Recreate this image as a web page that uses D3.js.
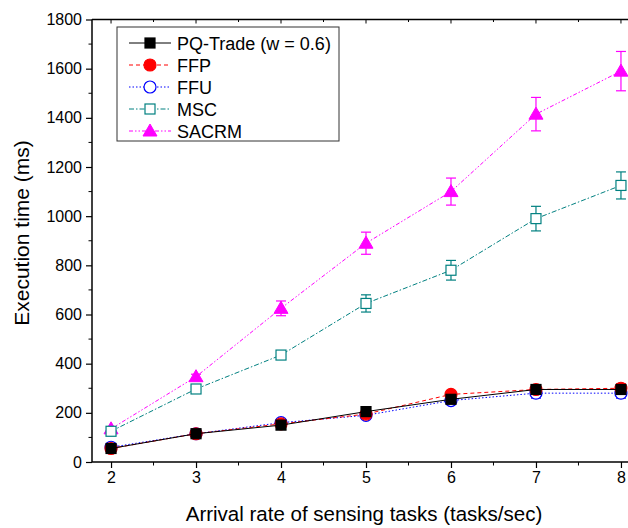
<!DOCTYPE html>
<html><head><meta charset="utf-8">
<script src="https://cdn.jsdelivr.net/npm/d3@7"></script>
<style>body{margin:0;background:#fff}svg{display:block}text{font-family:"Liberation Sans",Arial,sans-serif}</style>
</head><body><svg id="c" width="628" height="528"></svg>
<script>
const xValues = [2, 3, 4, 5, 6, 7, 8];
const seriesNames = ["PQ-Trade (w = 0.6)", "FFP", "FFU", "MSC", "SACRM"];
const pqTrade = [55, 115, 150, 205, 255, 295, 295];
const pqTradeErr = [8, 8, 8, 10, 12, 15, 15];
const ffp = [55, 115, 155, 195, 275, 295, 300];
const ffpErr = [8, 8, 8, 10, 15, 18, 18];
const ffu = [60, 115, 160, 190, 250, 280, 280];
const ffuErr = [8, 8, 8, 10, 12, 20, 20];
const msc = [125, 297, 435, 645, 780, 990, 1125];
const mscErr = [8, 10, 12, 35, 40, 50, 55];
const sacrm = [135, 347, 625, 890, 1100, 1415, 1590];
const sacrmErr = [8, 10, 30, 45, 55, 68, 80];
const yTicks = [0, 200, 400, 600, 800, 1000, 1200, 1400, 1600, 1800];
const xTicks = [2, 3, 4, 5, 6, 7, 8];

const svg = d3.select("#c");
const L = 92, T = 19.5, B = 462, R = 640;
const x = d3.scaleLinear().domain([1.776, 8.224]).range([L, R]);
const y = d3.scaleLinear().domain([0, 1800]).range([B, T]);

const series = [
  {name: seriesNames[0], v: pqTrade, e: pqTradeErr, color: "#000000", dash: null, marker: "square", fill: true},
  {name: seriesNames[1], v: ffp, e: ffpErr, color: "#ff0000", dash: "4,3", marker: "circle", fill: true},
  {name: seriesNames[2], v: ffu, e: ffuErr, color: "#0000ff", dash: "1.5,2", marker: "circle", fill: false},
  {name: seriesNames[3], v: msc, e: mscErr, color: "#008080", dash: "5,2,1.5,2", marker: "square", fill: false},
  {name: seriesNames[4], v: sacrm, e: sacrmErr, color: "#ff00ff", dash: "4,2,1.5,2,1.5,2", marker: "triangle", fill: true}
];

// axes
const fmt = d3.format("d");
const yAxis = d3.axisLeft(y).tickValues(yTicks).tickFormat(fmt).tickSize(6).tickPadding(4);
const gy = svg.append("g").attr("transform", `translate(${L},0)`).call(yAxis);
const yMinor = d3.range(100, 1800, 200);
gy.selectAll(".minor").data(yMinor).enter().append("line").attr("class","minor")
  .attr("x1", -3.5).attr("x2", 0).attr("y1", d => y(d)).attr("y2", d => y(d)).attr("stroke", "#000");
const xAxis = d3.axisBottom(x).tickValues(xTicks).tickFormat(fmt).tickSize(6).tickPadding(4);
const gx = svg.append("g").attr("transform", `translate(0,${B})`).call(xAxis);
const xMinor = d3.range(2.5, 8, 1);
gx.selectAll(".minor").data(xMinor).enter().append("line").attr("class","minor")
  .attr("y1", 0).attr("y2", 3.5).attr("x1", d => x(d)).attr("x2", d => x(d)).attr("stroke", "#000");
[gx, gy].forEach(g => {
  g.select(".domain").attr("stroke", "#000").attr("stroke-width", 1.5);
  g.selectAll(".tick line").attr("stroke", "#000").attr("stroke-width", 1.2);
  g.selectAll(".tick text").attr("font-size", 16).attr("fill", "#000").attr("font-family", "Liberation Sans, Arial, sans-serif");
});
gx.select(".domain").attr("d", `M${L},0H${R}`);
gy.select(".domain").attr("d", `M0,${B}V${T}`);
// top border with inward ticks
const gt = svg.append("g");
gt.append("line").attr("x1", L).attr("x2", R).attr("y1", T).attr("y2", T).attr("stroke", "#000").attr("stroke-width", 1.5);
gt.selectAll(".tt").data(xTicks).enter().append("line")
  .attr("x1", d => x(d)).attr("x2", d => x(d)).attr("y1", T).attr("y2", T + 4).attr("stroke", "#000");
gt.selectAll(".tm").data(xMinor).enter().append("line")
  .attr("x1", d => x(d)).attr("x2", d => x(d)).attr("y1", T).attr("y2", T + 2.5).attr("stroke", "#000");

// labels
svg.append("text").attr("x", 364).attr("y", 521)
  .attr("text-anchor", "middle").attr("font-size", 20.5).text("Arrival rate of sensing tasks (tasks/sec)");
svg.append("text").attr("transform", "translate(29,233) rotate(-90)")
  .attr("text-anchor", "middle").attr("font-size", 21).text("Execution time (ms)");

function drawMarker(g, s, cx, cy) {
  const fill = s.fill ? s.color : "#fff";
  if (s.marker === "square") {
    g.append("rect").attr("x", cx - 5).attr("y", cy - 5).attr("width", 10).attr("height", 10)
      .attr("fill", fill).attr("stroke", s.color).attr("stroke-width", 1.2);
  } else if (s.marker === "circle") {
    g.append("circle").attr("cx", cx).attr("cy", cy).attr("r", 6)
      .attr("fill", fill).attr("stroke", s.color).attr("stroke-width", 1.2);
  } else {
    g.append("path").attr("d", `M${cx},${cy - 7}L${cx + 7},${cy + 5}L${cx - 7},${cy + 5}Z`)
      .attr("fill", fill).attr("stroke", s.color).attr("stroke-width", 1);
  }
}

const line = d3.line().x((d, i) => x(xValues[i])).y(d => y(d));
const plot = svg.append("g");
series.slice().reverse().forEach(s => {
  const g = plot.append("g");
  g.append("path").attr("d", line(s.v)).attr("fill", "none").attr("stroke", s.color)
    .attr("stroke-width", 1).attr("stroke-dasharray", s.dash);
  s.v.forEach((v, i) => {
    const cx = x(xValues[i]);
    const y1 = y(v + s.e[i]), y2 = y(v - s.e[i]);
    g.append("line").attr("x1", cx).attr("x2", cx).attr("y1", y1).attr("y2", y2).attr("stroke", s.color).attr("stroke-width", 1.2);
    [y1, y2].forEach(yy => g.append("line").attr("x1", cx - 5).attr("x2", cx + 5).attr("y1", yy).attr("y2", yy).attr("stroke", s.color).attr("stroke-width", 1.2));
    drawMarker(g, s, cx, y(v));
  });
});

// legend
const lg = svg.append("g");
lg.append("rect").attr("x", 117).attr("y", 27).attr("width", 222).attr("height", 114)
  .attr("fill", "#fff").attr("stroke", "#333").attr("stroke-width", 1);
series.forEach((s, i) => {
  const yy = 43 + i * 22;
  lg.append("line").attr("x1", 129).attr("x2", 171).attr("y1", yy).attr("y2", yy)
    .attr("stroke", s.color).attr("stroke-width", 1).attr("stroke-dasharray", s.dash);
  drawMarker(lg, s, 150, yy);
  lg.append("text").attr("x", 177).attr("y", yy + 6.5).attr("font-size", 18).text(s.name);
});
</script></body></html>
